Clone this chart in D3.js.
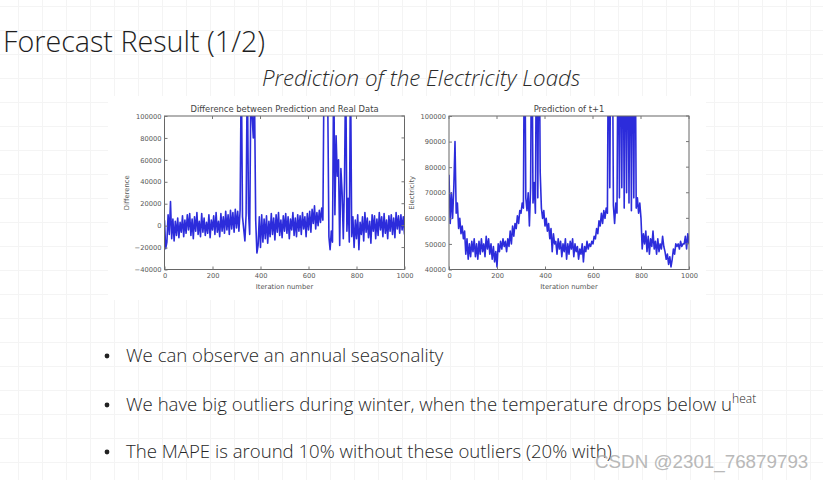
<!DOCTYPE html>
<html><head><meta charset="utf-8">
<script src="https://cdn.jsdelivr.net/npm/d3@7"></script>
<style>
html,body{margin:0;padding:0;background:#fff;}
svg{display:block;}
</style></head>
<body>
<svg id="c" width="823" height="480"></svg>
<script>
// ---- data (values in thousands) ----
const iterStep = 5;
const diffValues = [5,-21,-15,10,-8,22,-12,6,-14,4,-9,7,-11,3,-6,9,-10,5,-7,10,
-4,11,-9,6,-12,8,-5,12,-8,4,-10,11,-6,7,-9,3,-7,10,-11,5,
-4,9,-8,12,-6,4,-10,11,-5,8,-7,13,-4,10,-8,14,-3,12,-6,15,
-2,13,-5,14,150,8,-3,-14,10,150,12,-8,130,100,80,120,5,-25,-18,8,
-20,10,-15,6,-12,9,-16,4,-10,11,-8,7,-13,10,-6,12,-9,5,-11,9,
-5,11,-7,8,-12,6,-4,12,-9,7,-10,10,-5,9,-8,12,-3,8,-10,11,
-4,13,-6,15,2,18,-3,12,0,14,3,16,5,150,110,150,120,-10,-22,-5,
-15,150,10,82,45,60,-18,52,30,-12,40,150,-5,25,-15,150,-10,8,-20,5,
-12,10,-22,3,-8,8,-14,12,-6,7,-11,4,-16,10,-5,9,-12,6,-9,12,
-4,8,-10,11,-7,5,-12,9,-5,10,-8,7,-11,12,-3,9,-7,10,-4,8,-8];
const predValues = [77,58,70,60,72,90,62,66,56,60,54,57,52,55,46,52,44,50,45,51,
47,52,45,50,44,51,46,52,47,50,45,53,48,52,46,50,44,49,43,47,
41,50,47,51,48,52,49,51,47,52,49,55,50,57,53,58,56,61,58,63,
62,66,64,150,68,63,70,57,72,150,66,74,62,150,68,150,78,64,60,63,
57,60,55,58,52,56,47,54,50,51,46,52,48,51,45,50,47,52,44,50,
46,51,48,52,45,50,47,49,44,48,46,50,43,49,47,51,48,50,49,51,
50,53,52,56,54,59,57,62,58,63,60,64,62,150,72,150,150,65,58,66,
62,150,68,150,72,150,64,150,70,150,66,150,63,150,68,150,64,68,62,66,
60,48,54,50,55,47,53,46,52,49,55,48,51,46,52,47,50,48,53,49,
47,44,46,42,45,41,44,48,46,50,49,50,48,51,49,50,50,53,48,54,50];
const xTicks = [0,200,400,600,800,1000];
const diffTicks = [-40000,-20000,0,20000,40000,60000,80000,100000];
const predTicks = [40000,50000,60000,70000,80000,90000,100000];
const bullets = ["We can observe an annual seasonality",
  "We have big outliers during winter, when the temperature drops below u",
  "The MAPE is around 10% without these outliers (20% with)"];

const svg = d3.select("#c");

// faint slide grid
const defs = svg.append("defs");
const pat = defs.append("pattern").attr("id","grid").attr("patternUnits","userSpaceOnUse")
  .attr("width",24).attr("height",24).attr("x",18).attr("y",6);
pat.append("path").attr("d","M0 0.5H24M0.5 0V24").attr("stroke","#f4f4f4").attr("stroke-width",1).attr("fill","none");
svg.append("rect").attr("width",823).attr("height",480).attr("fill","url(#grid)");

// title
svg.append("text").attr("x",3).attr("y",52).text("Forecast Result (1/2)")
  .attr("font-family","Open Sans, sans-serif").attr("font-weight",300).attr("font-size",28.7).attr("fill","#1e1e1e");
svg.append("text").attr("x",262).attr("y",86).text("Prediction of the Electricity Loads")
  .attr("font-family","Open Sans, sans-serif").attr("font-weight",300).attr("font-style","italic").attr("font-size",22.3).attr("fill","#2a2a2a");

// chart image background
svg.append("rect").attr("x",108).attr("y",96).attr("width",598).attr("height",204).attr("fill","#ffffff");

function panel(opts){
  const {x0,x1,y0,y1,values,domain,ticks,title,ylabel,ylabX,id} = opts;
  const x = d3.scaleLinear().domain([0,1000]).range([x0,x1]);
  const y = d3.scaleLinear().domain(domain).range([y1,y0]);
  const g = svg.append("g");
  defs.append("clipPath").attr("id",id).append("rect").attr("x",x0).attr("y",y0).attr("width",x1-x0).attr("height",y1-y0);
  const line = d3.line().x((d,i)=>x(i*iterStep)).y(d=>y(d*1000));
  g.append("path").datum(values).attr("d",line).attr("clip-path",`url(#${id})`)
    .attr("fill","none").attr("stroke","#1a1ad8").attr("stroke-width",1.6).attr("stroke-linejoin","round").attr("opacity",0.92);
  // axes box
  g.append("rect").attr("x",x0).attr("y",y0).attr("width",x1-x0).attr("height",y1-y0)
    .attr("fill","none").attr("stroke","#666").attr("stroke-width",1);
  const ff = "DejaVu Sans, sans-serif";
  const ax = g.append("g").attr("transform",`translate(0,${y1})`)
    .call(d3.axisBottom(x).tickValues(xTicks).tickSize(-3).tickPadding(4).tickFormat(d3.format("d")));
  const ay = g.append("g").attr("transform",`translate(${x0},0)`)
    .call(d3.axisLeft(y).tickValues(ticks).tickSize(-3).tickPadding(3).tickFormat(d=>d3.format("d")(d).replace("-","\u2212")));
  [ax,ay].forEach(a=>{
    a.select(".domain").remove();
    a.selectAll("line").attr("stroke","#777");
    a.selectAll("text").attr("font-family",ff).attr("font-size",6.7).attr("fill","#555");
  });
  // right and top ticks
  ticks.forEach(t=>g.append("line").attr("x1",x1).attr("x2",x1-3).attr("y1",y(t)).attr("y2",y(t)).attr("stroke","#777"));
  xTicks.forEach(t=>g.append("line").attr("x1",x(t)).attr("x2",x(t)).attr("y1",y0).attr("y2",y0+3).attr("stroke","#777"));
  g.append("text").attr("x",(x0+x1)/2).attr("y",y0-4).attr("text-anchor","middle").text(title)
    .attr("font-family",ff).attr("font-size",8.4).attr("fill","#444");
  g.append("text").attr("x",(x0+x1)/2).attr("y",y1+19).attr("text-anchor","middle").text("Iteration number")
    .attr("font-family",ff).attr("font-size",6.8).attr("fill","#555");
  g.append("text").attr("transform",`translate(${ylabX},${(y0+y1)/2}) rotate(-90)`).attr("text-anchor","middle").text(ylabel)
    .attr("font-family",ff).attr("font-size",6.8).attr("fill","#555");
}
panel({x0:164.5,x1:404.5,y0:116,y1:269.5,values:diffValues,domain:[-40000,100000],ticks:diffTicks,
  title:"Difference between Prediction and Real Data",ylabel:"Difference",ylabX:129,id:"clipA"});
panel({x0:449,x1:689,y0:116,y1:269.5,values:predValues,domain:[40000,100000],ticks:predTicks,
  title:"Prediction of t+1",ylabel:"Electricity",ylabX:414,id:"clipB"});

// bullets
const bY = [362,411,458];
bullets.forEach((b,i)=>{
  svg.append("circle").attr("cx",107).attr("cy",bY[i]-6).attr("r",2.4).attr("fill","#222");
  const t = svg.append("text").attr("x",126).attr("y",bY[i]).attr("font-family","Open Sans, sans-serif")
    .attr("font-weight",300).attr("font-size",18.6).attr("fill","#262626").text(b);
  if(i===1){
    t.append("tspan").attr("dy",-8).attr("font-size",12).text("heat");
  }
});

// watermark
svg.append("text").attr("x",595).attr("y",468).text("CSDN @2301_76879793")
  .attr("font-family","Liberation Sans, Arial, sans-serif").attr("font-size",18.8).attr("fill","#a8a8a8").attr("opacity",0.8);
</script>
</body></html>
